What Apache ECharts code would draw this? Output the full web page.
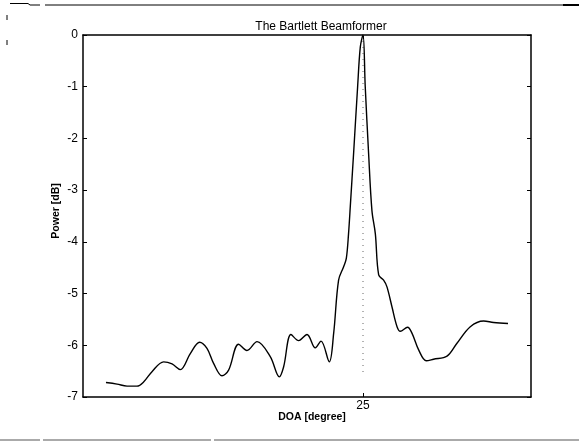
<!DOCTYPE html>
<html>
<head>
<meta charset="utf-8">
<script src="https://cdn.jsdelivr.net/npm/echarts@6/dist/echarts.min.js"></script>
<style>
  html, body { margin: 0; padding: 0; background: #fff; }
  #chart { width: 579px; height: 445px; }
</style>
</head>
<body>
<div id="chart"></div>
<script>
// Bartlett beamformer output: direction of arrival (degrees) vs. power (dB)
const doaDeg = [
  2.05, 3.04, 3.93, 4.82, 5.41, 6.16, 7.2, 7.95, 8.69, 9.58, 10.41, 11.07, 11.66, 12.41,
  13.0, 13.89, 14.64, 15.54, 16.72, 17.53, 17.91, 18.57, 19.25, 20.0, 20.74, 21.25,
  21.99, 22.38, 22.82, 23.27, 23.51, 23.71, 23.87, 24.16, 24.52, 24.76, 25.0, 25.2,
  25.5, 25.8, 26.1, 26.4, 26.84, 27.14, 27.59, 28.04, 28.33, 28.98, 29.38, 29.97,
  30.65, 31.3, 32.5, 33.39, 34.58, 35.77, 36.66, 37.95
];
const powerDb = [
  -6.72, -6.75, -6.79, -6.79, -6.71, -6.51, -6.32, -6.36, -6.47, -6.16, -5.94, -6.06, -6.35, -6.59,
  -6.48, -5.98, -6.10, -5.93, -6.22, -6.61, -6.42, -5.79, -5.91, -5.79, -6.05, -5.92,
  -6.32, -5.77, -4.74, -4.48, -4.32, -3.84, -3.30, -2.29, -1.00, -0.23, 0.0, -1.00,
  -2.29, -3.40, -3.84, -4.64, -4.74, -4.87, -5.26, -5.64, -5.73, -5.65, -5.77, -6.09,
  -6.30, -6.27, -6.21, -5.96, -5.64, -5.53, -5.56, -5.58
];
const trueDoa = 25;                 // source direction, marked by the dotted line
const markerSpan = [0, -6.55];      // vertical extent of that marker (dB)
const xTicks = [25];
const yTicks = [-7, -6, -5, -4, -3, -2, -1, 0];

const FONT = '"Liberation Sans", Arial, sans-serif';
const chart = echarts.init(document.getElementById('chart'), null, { renderer: 'canvas' });

const curve = doaDeg.map((d, i) => [d, powerDb[i]]);
const marker = markerSpan.map(p => [trueDoa, p]);

const axisLine = { show: true, onZero: false, lineStyle: { color: '#000', width: 1.5 } };

chart.setOption({
  animation: false,
  backgroundColor: '#fff',
  title: {
    text: 'The Bartlett Beamformer',
    left: 316, top: 16, textAlign: 'center',
    textStyle: { fontFamily: FONT, fontSize: 12, fontWeight: 'normal', color: '#000' }
  },
  grid: { left: 83, right: 48, top: 35, bottom: 48, containLabel: false },
  xAxis: [
    {
      type: 'value', min: 0, max: 40, position: 'bottom',
      name: 'DOA [degree]', nameLocation: 'middle', nameGap: 15, nameMoveOverlap: false,
      nameTextStyle: { fontFamily: FONT, fontSize: 10.5, fontWeight: 'bold', color: '#000', padding: [0, 0, 0, 10] },
      axisLine: axisLine,
      axisTick: { show: true, inside: true, length: 4, customValues: xTicks, lineStyle: { color: '#000' } },
      axisLabel: { customValues: xTicks, fontFamily: FONT, fontSize: 12, color: '#000', margin: 3 },
      splitLine: { show: false }
    },
    {
      type: 'value', min: 0, max: 40, position: 'top',
      axisLine: axisLine,
      axisTick: { show: true, inside: true, length: 4, customValues: xTicks, lineStyle: { color: '#000' } },
      axisLabel: { show: false },
      splitLine: { show: false }
    }
  ],
  yAxis: [
    {
      type: 'value', min: -7, max: 0, interval: 1, position: 'left',
      name: 'Power [dB]', nameLocation: 'middle', nameGap: 21, nameRotate: 90, nameMoveOverlap: false,
      nameTextStyle: { fontFamily: FONT, fontSize: 10.5, fontWeight: 'bold', color: '#000', padding: [0, 0, 0, 10] },
      axisLine: axisLine,
      axisTick: { show: true, inside: true, length: 4, lineStyle: { color: '#000' } },
      axisLabel: { fontFamily: FONT, fontSize: 12, color: '#000', margin: 5,
                   formatter: v => yTicks.includes(v) ? String(v) : '' },
      splitLine: { show: false }
    },
    {
      type: 'value', min: -7, max: 0, interval: 1, position: 'right',
      axisLine: axisLine,
      axisTick: { show: true, inside: true, length: 4, lineStyle: { color: '#000' } },
      axisLabel: { show: false },
      splitLine: { show: false }
    }
  ],
  series: [
    {
      type: 'line', data: marker, xAxisIndex: 0, yAxisIndex: 0,
      symbol: 'none', silent: true,
      lineStyle: { color: '#666', width: 1, type: [1, 5] }
    },
    {
      type: 'line', data: curve, xAxisIndex: 0, yAxisIndex: 0,
      symbol: 'none', smooth: 0.35,
      lineStyle: { color: '#000', width: 1.4 }
    }
  ],
  graphic: [
    // page edge rules around the figure
    { type: 'polyline', shape: { points: [[10, 3.5], [28, 3.5], [30, 5], [40, 5]] }, style: { stroke: '#000', fill: null, lineWidth: 1 } },
    { type: 'line', shape: { x1: 45, y1: 5, x2: 579, y2: 5 }, style: { stroke: '#000', lineWidth: 1 } },
    { type: 'line', shape: { x1: 563, y1: 5, x2: 579, y2: 5 }, style: { stroke: '#000', lineWidth: 2 } },
    { type: 'line', shape: { x1: 0, y1: 440, x2: 40, y2: 440 }, style: { stroke: '#aaa', lineWidth: 2 } },
    { type: 'line', shape: { x1: 43, y1: 440, x2: 211, y2: 440 }, style: { stroke: '#aaa', lineWidth: 2 } },
    { type: 'line', shape: { x1: 214, y1: 440, x2: 579, y2: 440 }, style: { stroke: '#aaa', lineWidth: 2 } },
    { type: 'line', shape: { x1: 7, y1: 15, x2: 7, y2: 20 }, style: { stroke: '#000', lineWidth: 1 } },
    { type: 'line', shape: { x1: 7, y1: 40, x2: 7, y2: 45 }, style: { stroke: '#000', lineWidth: 1 } }
  ]
});
</script>
</body>
</html>
